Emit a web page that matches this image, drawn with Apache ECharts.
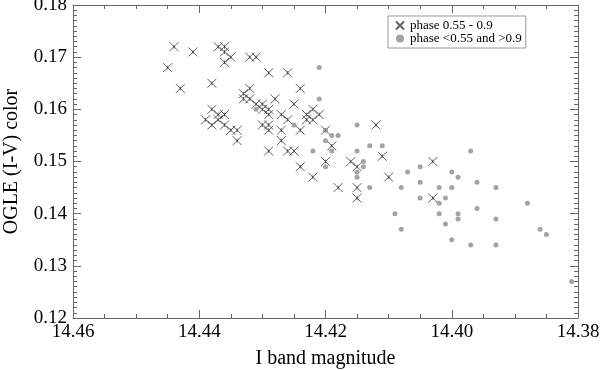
<!DOCTYPE html>
<html>
<head>
<meta charset="utf-8">
<script src="https://cdn.jsdelivr.net/npm/echarts@6/dist/echarts.min.js"></script>
<style>
  html, body { margin: 0; padding: 0; background: #fff; }
  #main { width: 600px; height: 370px; }
</style>
</head>
<body>
<div id="main"></div>
<script>
// phase 0.55 - 0.9  [I mag, I-V]
const phaseIn = [
  [14.444, 0.172], [14.441, 0.171], [14.445, 0.168], [14.443, 0.164],
  [14.437, 0.172], [14.436, 0.172], [14.436, 0.171], [14.435, 0.170],
  [14.436, 0.169], [14.438, 0.165], [14.432, 0.170], [14.431, 0.170],
  [14.432, 0.164], [14.433, 0.163], [14.433, 0.162], [14.432, 0.162],
  [14.431, 0.161], [14.430, 0.161], [14.430, 0.160], [14.429, 0.160],
  [14.429, 0.159], [14.428, 0.162], [14.438, 0.160], [14.437, 0.159],
  [14.436, 0.159], [14.439, 0.158], [14.437, 0.158], [14.438, 0.157],
  [14.436, 0.157], [14.435, 0.156], [14.434, 0.156], [14.434, 0.154],
  [14.430, 0.157], [14.429, 0.157], [14.429, 0.156], [14.429, 0.167],
  [14.426, 0.167], [14.424, 0.164], [14.425, 0.161], [14.422, 0.160],
  [14.423, 0.159], [14.421, 0.159], [14.423, 0.158], [14.422, 0.158],
  [14.427, 0.159], [14.426, 0.158], [14.427, 0.156], [14.424, 0.156],
  [14.427, 0.154], [14.429, 0.152], [14.426, 0.152], [14.425, 0.152],
  [14.420, 0.156], [14.419, 0.153], [14.412, 0.157], [14.411, 0.151],
  [14.420, 0.150], [14.416, 0.150], [14.415, 0.149], [14.424, 0.149],
  [14.422, 0.147], [14.418, 0.145], [14.415, 0.145], [14.415, 0.143],
  [14.410, 0.147], [14.403, 0.150], [14.403, 0.143]
];

// phase <0.55 and >0.9
const phaseOut = [
  [14.431, 0.160], [14.421, 0.168], [14.421, 0.162], [14.425, 0.157],
  [14.420, 0.154], [14.419, 0.155], [14.418, 0.155], [14.422, 0.152],
  [14.419, 0.152], [14.415, 0.152], [14.413, 0.153], [14.411, 0.153],
  [14.415, 0.157], [14.420, 0.156], [14.420, 0.149], [14.414, 0.150],
  [14.414, 0.149], [14.415, 0.148], [14.415, 0.147], [14.413, 0.145],
  [14.407, 0.148], [14.405, 0.149], [14.405, 0.146], [14.408, 0.145],
  [14.409, 0.140], [14.408, 0.137], [14.405, 0.143], [14.402, 0.145],
  [14.402, 0.142], [14.401, 0.143], [14.402, 0.140], [14.401, 0.138],
  [14.400, 0.148], [14.400, 0.145], [14.400, 0.135], [14.397, 0.152],
  [14.399, 0.147], [14.396, 0.146], [14.393, 0.145], [14.396, 0.141],
  [14.399, 0.140], [14.399, 0.139], [14.393, 0.139], [14.388, 0.142],
  [14.386, 0.137], [14.385, 0.136], [14.397, 0.134], [14.393, 0.134],
  [14.381, 0.127]
];

const seriesNames = ['phase 0.55 - 0.9', 'phase <0.55 and >0.9'];

const font = 'Liberation Serif';
const axisColor = '#666';
const crossPath = 'path://M0,0L10,10M10,0L0,10M5,3L5,7';

let myChart = echarts.init(document.getElementById('main'));

const xBase = {
  type: 'value',
  min: 14.38,
  max: 14.46,
  interval: 0.02,
  inverse: true,
  axisLine: { onZero: false, lineStyle: { color: axisColor } },
  splitLine: { show: false },
  minorTick: { show: true, splitNumber: 4, length: 4, lineStyle: { color: axisColor } },
  axisTick: { inside: true, length: 8, lineStyle: { color: axisColor } }
};
const yBase = {
  type: 'value',
  min: 0.12,
  max: 0.18,
  interval: 0.01,
  axisLine: { show: true, onZero: false, lineStyle: { color: axisColor } },
  splitLine: { show: false },
  minorTick: { show: true, splitNumber: 10, length: 4, lineStyle: { color: axisColor } },
  axisTick: { show: true, inside: true, length: 8, lineStyle: { color: axisColor } }
};

myChart.setOption({
  animation: false,
  textStyle: { fontFamily: font },
  grid: { left: 73, right: 22, top: 5, bottom: 52, containLabel: false, outerBoundsMode: 'none' },
  legend: {
    orient: 'vertical',
    left: 388,
    top: 16,
    padding: [3, 4, 3, 7],
    itemGap: 0,
    itemWidth: 10,
    itemHeight: 8,
    borderColor: '#999',
    borderWidth: 1,
    textStyle: { fontFamily: font, fontSize: 13, color: '#000' },
    data: seriesNames
  },
  xAxis: [
    {
      ...xBase,
      position: 'bottom',
      name: 'I band magnitude',
      nameLocation: 'middle',
      nameGap: 31,
      nameTextStyle: { fontFamily: font, fontSize: 20, color: '#000' },
      axisLabel: {
        fontFamily: font, fontSize: 19, color: '#000', margin: 5,
        formatter: (v) => v.toFixed(2)
      }
    },
    { ...xBase, position: 'top', axisLabel: { show: false } }
  ],
  yAxis: [
    {
      ...yBase,
      position: 'left',
      name: 'OGLE (I-V) color',
      nameLocation: 'middle',
      nameGap: 51,
      nameRotate: 90,
      nameTextStyle: { fontFamily: font, fontSize: 20, color: '#000' },
      axisLabel: {
        fontFamily: font, fontSize: 19, color: '#000', margin: 6,
        formatter: (v) => v.toFixed(2)
      }
    },
    { ...yBase, position: 'right', axisLabel: { show: false } }
  ],
  series: [
    {
      name: seriesNames[0],
      type: 'scatter',
      data: phaseIn,
      symbol: crossPath,
      symbolSize: 9,
      itemStyle: { color: 'rgba(0,0,0,0)', borderColor: '#3a3a3a', borderWidth: 1 }
    },
    {
      name: seriesNames[1],
      type: 'scatter',
      data: phaseOut,
      symbol: 'circle',
      symbolSize: 5,
      itemStyle: { color: '#8c8c8c' }
    }
  ]
});

window.addEventListener('resize', () => {
  myChart.resize();
});
</script>
</body>
</html>
